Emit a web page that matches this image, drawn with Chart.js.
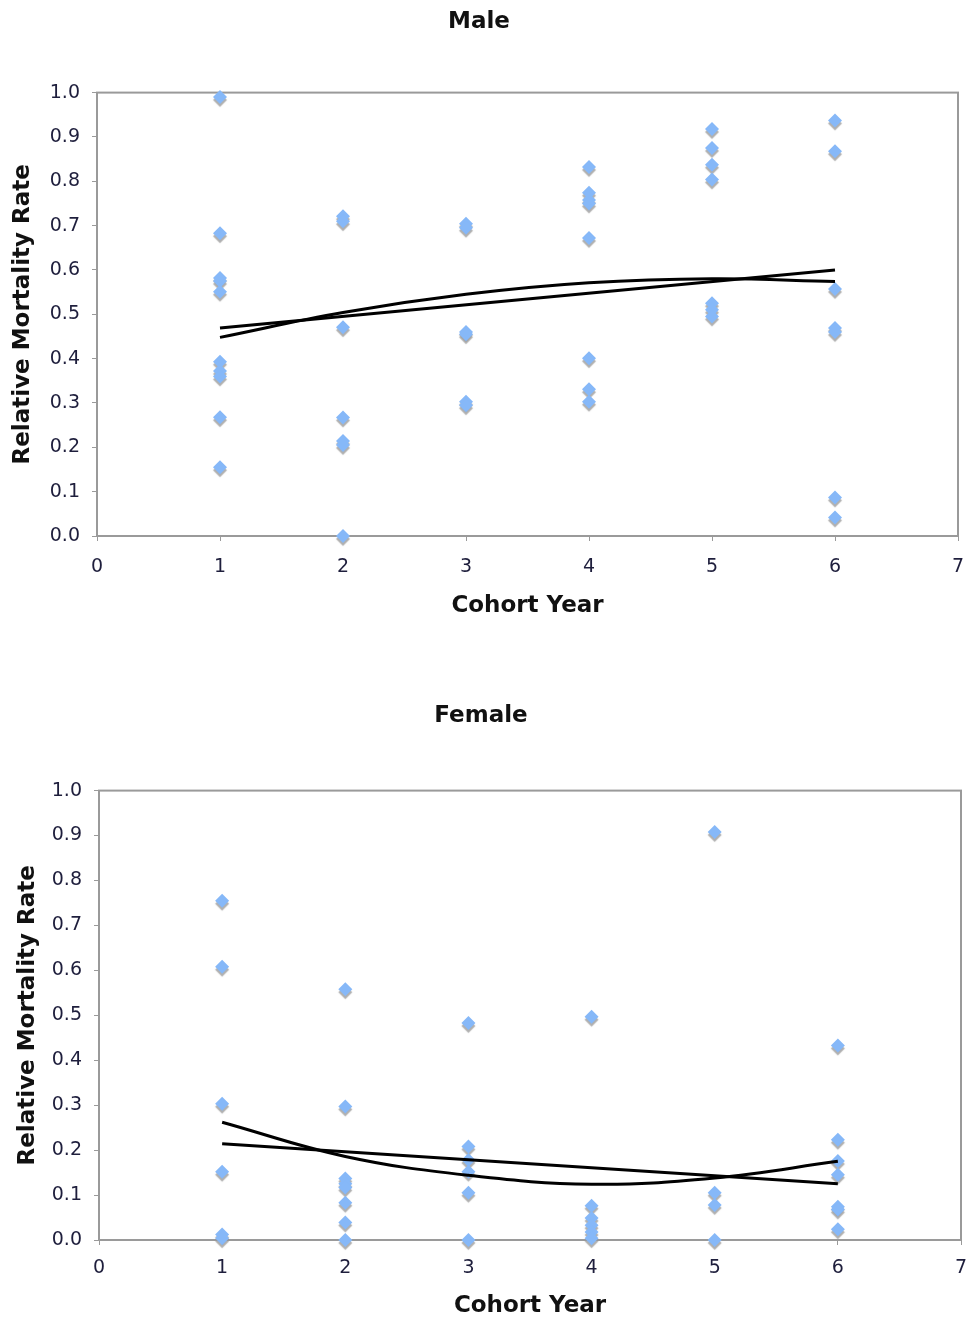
<!DOCTYPE html>
<html>
<head>
    <title>Relative Mortality Rate by Cohort Year</title>
    <script src="https://cdn.jsdelivr.net/npm/chart.js"></script>
    <style>
        body {
            margin: 0;
            background-color: #fff;
            font-family: "DejaVu Sans", Verdana, sans-serif;
        }
        .panel {
            width: 968px;
            height: 660px;
        }
    </style>
</head>
<body>
    <div class="panel"><canvas id="male" width="968" height="660"></canvas></div>
    <div class="panel"><canvas id="female" width="968" height="660"></canvas></div>

    <script>
        // rates, one list per cohort year (1..6)
        const cohortYears = [1, 2, 3, 4, 5, 6];
        const maleRates = [
            [0.990, 0.683, 0.582, 0.575, 0.551, 0.393, 0.372, 0.360, 0.268, 0.155],
            [0.721, 0.710, 0.471, 0.267, 0.214, 0.205, 0.000],
            [0.704, 0.695, 0.460, 0.455, 0.303, 0.295],
            [0.832, 0.774, 0.758, 0.750, 0.672, 0.401, 0.331, 0.303],
            [0.918, 0.875, 0.837, 0.804, 0.525, 0.510, 0.495],
            [0.937, 0.868, 0.557, 0.469, 0.460, 0.087, 0.042]
        ];
        const femaleRates = [
            [0.755, 0.608, 0.303, 0.152, 0.012, 0.004],
            [0.558, 0.297, 0.137, 0.125, 0.117, 0.083, 0.039, 0.000],
            [0.483, 0.208, 0.178, 0.152, 0.105, 0.000],
            [0.497, 0.076, 0.049, 0.033, 0.018, 0.004],
            [0.908, 0.105, 0.078, 0.000],
            [0.433, 0.223, 0.176, 0.145, 0.074, 0.068, 0.024]
        ];

        // trendlines
        const linearYears = [1, 6];
        const maleLinear = [0.469, 0.600];
        const femaleLinear = [0.214, 0.125];
        const malePoly = [0.448, 0.504, 0.545, 0.571, 0.580, 0.574];
        const femalePoly = [0.262, 0.186, 0.144, 0.124, 0.138, 0.175];

        const yTicks = [0, 0.1, 0.2, 0.3, 0.4, 0.5, 0.6, 0.7, 0.8, 0.9, 1.0];
        const xTicks = [0, 1, 2, 3, 4, 5, 6, 7];

        const pointBlue = '#86b8f8';
        const frameGray = '#9a9a9a';
        const tickText = '#1e1e3c';

        function toPoints(xs, ys) {
            return ys.map((y, i) => ({ x: xs[i], y: y }));
        }

        function scatterPoints(rates) {
            const pts = [];
            rates.forEach((list, i) => {
                list.forEach(r => pts.push({ x: cohortYears[i], y: r }));
            });
            return pts;
        }

        // the little grey drop shadow under each marker
        const shadowPlugin = {
            id: 'markerShadow',
            beforeDatasetDraw(chart, args) {
                if (chart.data.datasets[args.index].isMarkers) {
                    const ctx = chart.ctx;
                    ctx.save();
                    ctx.shadowColor = 'rgba(150,150,150,0.75)';
                    ctx.shadowOffsetY = 3;
                    ctx.shadowBlur = 1;
                }
            },
            afterDatasetDraw(chart, args) {
                if (chart.data.datasets[args.index].isMarkers) {
                    chart.ctx.restore();
                }
            }
        };

        // grey box round the plot area
        const framePlugin = {
            id: 'plotFrame',
            beforeDatasetsDraw(chart) {
                const a = chart.chartArea;
                const ctx = chart.ctx;
                ctx.save();
                ctx.strokeStyle = frameGray;
                ctx.lineWidth = 2;
                ctx.strokeRect(a.left, a.top, a.right - a.left, a.bottom - a.top);
                ctx.restore();
            }
        };

        function makeChart(id, name, rates, linear, poly, g) {
            const ctx = document.getElementById(id).getContext('2d');
            return new Chart(ctx, {
                type: 'scatter',
                data: {
                    datasets: [
                        {
                            label: 'Linear trend',
                            data: toPoints(linearYears, linear),
                            showLine: true,
                            borderColor: '#000',
                            borderWidth: 3,
                            pointRadius: 0
                        },
                        {
                            label: 'Polynomial trend',
                            data: toPoints(cohortYears, poly),
                            showLine: true,
                            borderColor: '#000',
                            borderWidth: 3,
                            pointRadius: 0,
                            tension: 0.4
                        },
                        {
                            label: name,
                            isMarkers: true,
                            clip: false,
                            data: scatterPoints(rates),
                            pointStyle: 'rectRot',
                            pointRadius: 7,
                            pointBackgroundColor: pointBlue,
                            pointBorderColor: pointBlue,
                            pointBorderWidth: 0
                        }
                    ]
                },
                plugins: [framePlugin, shadowPlugin],
                options: {
                    responsive: false,
                    animation: false,
                    layout: {
                        padding: { left: 0, right: g.right, top: 0, bottom: g.bottom }
                    },
                    plugins: {
                        legend: { display: false },
                        tooltip: { enabled: false },
                        title: {
                            display: true,
                            text: name,
                            color: '#111',
                            font: { family: 'DejaVu Sans', size: 23, weight: 'bold' },
                            padding: { top: g.titleTop, bottom: g.titleBottom }
                        }
                    },
                    scales: {
                        x: {
                            type: 'linear',
                            min: 0,
                            max: 7,
                            afterBuildTicks: s => { s.ticks = xTicks.map(v => ({ value: v })); },
                            afterFit: s => {
                                s.height = g.xHeight;
                                s.paddingLeft = 0;
                                s.paddingRight = 0;
                            },
                            ticks: {
                                color: tickText,
                                padding: g.xPad,
                                font: { family: 'DejaVu Sans', size: 19 }
                            },
                            grid: {
                                drawOnChartArea: false,
                                tickLength: 5,
                                tickColor: frameGray
                            },
                            border: { color: frameGray, width: 2 },
                            title: {
                                display: true,
                                text: 'Cohort Year',
                                color: '#111',
                                font: { family: 'DejaVu Sans', size: 23, weight: 'bold' },
                                padding: { top: 4, bottom: g.xTitleBottom }
                            }
                        },
                        y: {
                            min: 0,
                            max: 1,
                            afterBuildTicks: s => { s.ticks = yTicks.map(v => ({ value: v })); },
                            afterFit: s => { s.width = g.yWidth; },
                            ticks: {
                                color: tickText,
                                padding: 12,
                                font: { family: 'DejaVu Sans', size: 19 },
                                callback: v => v.toFixed(1)
                            },
                            grid: {
                                drawOnChartArea: false,
                                tickLength: 5,
                                tickColor: frameGray
                            },
                            border: { color: frameGray, width: 2 },
                            title: {
                                display: true,
                                text: 'Relative Mortality Rate',
                                color: '#111',
                                font: { family: 'DejaVu Sans', size: 23, weight: 'bold' },
                                padding: { top: g.yTitleTop, bottom: 4 }
                            }
                        }
                    }
                }
            });
        }

        makeChart('male', 'Male', maleRates, maleLinear, malePoly, {
            right: 10, bottom: 36, titleTop: 8, titleBottom: 57,
            xHeight: 88, xPad: 15, xTitleBottom: 4, yWidth: 97, yTitleTop: 9
        });
        makeChart('female', 'Female', femaleRates, femaleLinear, femalePoly, {
            right: 6, bottom: 0, titleTop: 42, titleBottom: 61,
            xHeight: 80, xPad: 12, xTitleBottom: 0, yWidth: 99, yTitleTop: 14
        });
    </script>
</body>
</html>
